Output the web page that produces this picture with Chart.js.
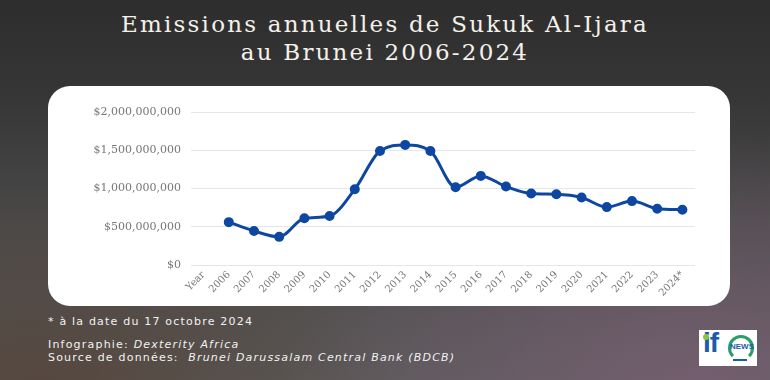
<!DOCTYPE html>
<html>
<head>
<meta charset="utf-8">
<script src="https://cdn.jsdelivr.net/npm/chart.js@4.4.1/dist/chart.umd.min.js"></script>
<style>
  html, body { margin:0; padding:0; }
  body {
    width:770px; height:380px; overflow:hidden; position:relative;
    background:
      radial-gradient(ellipse 420px 260px at 700px 390px, rgba(120,95,115,0.85), rgba(120,95,115,0) 100%),
      radial-gradient(ellipse 380px 220px at 40px 400px, rgba(85,68,58,0.9), rgba(85,68,58,0) 100%),
      linear-gradient(180deg, #2d2d2d 0%, #363636 25%, #4a4a4a 60%, #5a5a5a 100%);
    font-family: "Noto Sans", sans-serif;
  }
  #title {
    position:absolute; left:0; top:10px; width:770px; text-align:center;
    color:#f4f1ea; font-family:"DejaVu Serif", serif; font-size:23px; line-height:28px;
    letter-spacing:2.2px;
  }
  #panel {
    position:absolute; left:48px; top:86px; width:682px; height:220px;
    background:#fff; border-radius:22px;
  }
  #wrap { position:absolute; left:48px; top:86px; width:682px; height:220px; }
  .foot { position:absolute; left:48px; color:#f2f2f2; font-size:11px; font-family:"DejaVu Sans", sans-serif; letter-spacing:1.2px; white-space:nowrap; }
  .foot i { font-style:italic; }
  #logo {
    position:absolute; left:699px; top:330px; width:58px; height:36px; background:#fff; overflow:hidden;
  }
</style>
</head>
<body>
<div id="title">Emissions annuelles de Sukuk Al-Ijara<br>au Brunei 2006-2024</div>
<div id="panel"></div>
<div id="wrap"><canvas id="c" width="682" height="220"></canvas></div>
<div class="foot" style="top:315px;">* à la date du 17 octobre 2024</div>
<div class="foot" style="top:338px;">Infographie: <i>Dexterity Africa</i></div>
<div class="foot" style="top:351px;">Source de données:&nbsp; <i>Brunei Darussalam Central Bank (BDCB)</i></div>
<div id="logo">
  <div style="position:absolute;left:4px;top:-3px;font:bold 28px 'Liberation Sans',sans-serif;color:#1d5aa8;letter-spacing:-1px;">if</div>
  <div style="position:absolute;left:4px;top:4px;width:6px;height:6px;border-radius:50%;background:#8cc63f;"></div>
  <div style="position:absolute;left:29px;top:5px;width:20px;height:20px;border-radius:50%;border:3px solid #2a9d6a;border-bottom-color:transparent;"></div>
  <div style="position:absolute;left:31px;top:12px;font:bold 8px 'Liberation Sans',sans-serif;color:#1d5aa8;">NEWS</div>
  <div style="position:absolute;left:34px;top:29px;width:14px;height:2px;background:#1d5aa8;"></div>
</div>
<script>
const categories = ["Year","2006","2007","2008","2009","2010","2011","2012","2013","2014","2015","2016","2017","2018","2019","2020","2021","2022","2023","2024*"];
const emissions = [null,560000000,445000000,368000000,610000000,640000000,990000000,1490000000,1570000000,1490000000,1017000000,1165000000,1026000000,935000000,926000000,883000000,757000000,835000000,736000000,723000000];
const yTicks = [0,500000000,1000000000,1500000000,2000000000];

new Chart(document.getElementById('c'), {
  type:'line',
  data:{ labels:categories, datasets:[{
    data:emissions, borderColor:'#0d47a1', backgroundColor:'#0d47a1',
    borderWidth:3, pointRadius:3.5, pointHoverRadius:3.5, tension:0.4, spanGaps:false,
    cubicInterpolationMode:'monotone'
  }]},
  options:{
    responsive:false, animation:false,
    layout:{ padding:{ left:0, right:35, top:26, bottom:0 } },
    plugins:{ legend:{display:false}, tooltip:{enabled:false} },
    scales:{
      x:{
        offset:true,
        grid:{ display:false, drawTicks:false },
        border:{ display:false },
        ticks:{ color:'#777', font:{ family:'DejaVu Serif', size:10 }, maxRotation:45, minRotation:45, autoSkip:false, padding:4 },
        afterFit:(s)=>{ s.height = 41; }
      },
      y:{
        min:0, max:2000000000,
        grid:{ color:'#e6e6e6', drawTicks:false },
        border:{ display:false },
        afterBuildTicks:(s)=>{ s.ticks = yTicks.map(v=>({value:v})); },
        ticks:{ color:'#777', font:{ family:'DejaVu Serif', size:11 }, padding:10,
          callback:(v)=>'$'+Number(v).toLocaleString('en-US') },
        afterFit:(s)=>{ s.width = 143; }
      }
    }
  }
});
</script>
</body>
</html>
